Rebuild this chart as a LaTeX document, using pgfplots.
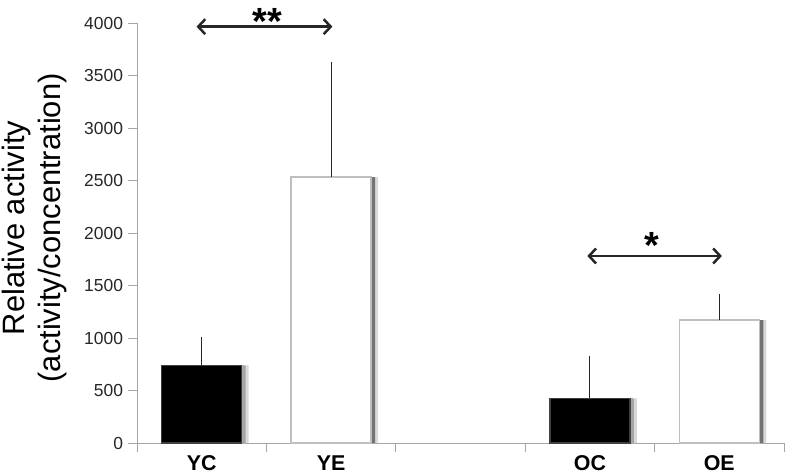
\documentclass[border=0pt]{standalone}
\usepackage{fontspec}
\setmainfont{Liberation Sans}
\usepackage{pgfplots}
\pgfplotsset{compat=1.18}
\usepackage{pgfplotstable}
\usetikzlibrary{arrows.meta}

% x: category slot (2 is the empty gap), y: mean, e: upper error
\pgfplotstableread{
x y e
0 740 222
3 425 365
}\ctrl
\pgfplotstableread{
x y e
1 2533 1055
4 1170 205
}\expo

\tikzset{
  dbl/.style={black!85, line width=2.5bp,
    {Straight Barb[length=7bp,width=15bp]}-{Straight Barb[length=7bp,width=15bp]}},
  star/.style={font=\fontsize{38}{38}\selectfont\bfseries, anchor=base, inner sep=0pt},
}
\pgfplotsset{
  barbase/.style={ybar, bar width=80bp, forget plot},
  errs/.style={error bars/.cd, y dir=plus, y explicit,
    error bar style={black!85, line width=1.1bp},
    error mark options={black!85, line width=1.1bp, mark size=4.5bp}},
}

\begin{document}
\begin{tikzpicture}
\begin{axis}[
  at={(0,0)}, anchor=south west,
  scale only axis, width=647bp, height=420bp,
  xmin=-0.5, xmax=4.5, ymin=0, ymax=4000,
  axis x line*=bottom, axis y line*=left,
  axis line style={gray!70, line width=0.8bp},
  ytick={0,500,...,4000},
  xtick={-0.5,0.5,...,4.5}, xticklabels={},
  extra x ticks={0,1,3,4},
  extra x tick labels={YC,YE,OC,OE},
  extra x tick style={major tick length=0pt,
    tick label style={font=\fontsize{21.5}{21.5}\selectfont\bfseries, yshift=-9bp}},
  tick align=outside, major tick length=8.5bp,
  tick style={gray!70, line width=0.8bp},
  yticklabel style={font=\fontsize{17.5}{17.5}\selectfont, text=black!85, xshift=-2bp},
  /pgf/number format/assume math mode=true,
  scaled y ticks=false,
  y tick label style={/pgf/number format/1000 sep={}},
  every axis y label/.style={at={(axis description cs:-0.158,0.512)}, rotate=90, anchor=center},
  ylabel={Relative activity\\(activity/concentration)},
  ylabel style={align=center, font=\fontsize{31}{36}\selectfont},
  clip=false,
]
% drop shadows
\addplot[barbase, bar shift=7bp, fill=black!15, draw=none] table[x=x,y=y] {\ctrl};
\addplot[barbase, bar shift=4bp, fill=black!35, draw=none] table[x=x,y=y] {\ctrl};
\addplot[barbase, bar shift=7bp, fill=black!15, draw=none] table[x=x,y=y] {\expo};
\addplot[barbase, bar shift=4bp, fill=black!55, draw=none] table[x=x,y=y] {\expo};
% bars
\addplot[barbase, bar shift=0pt, fill=black, draw=black!75, line width=1.2bp, errs]
  table[x=x,y=y,y error=e] {\ctrl};
\addplot[barbase, bar shift=0pt, fill=white, draw=gray!50, line width=1.5bp, errs]
  table[x=x,y=y,y error=e] {\expo};

% significance markers
\draw[dbl] (axis cs:-0.04,3965) -- (axis cs:1.01,3965);
\node[star] at (axis cs:0.51,3895) {**};
\draw[dbl] (axis cs:2.98,1781) -- (axis cs:4.02,1781);
\node[star] at (axis cs:3.48,1755) {*};
\end{axis}
\pgfresetboundingbox
\path[use as bounding box] (-137bp,-33bp) rectangle (650bp,443bp);
\end{tikzpicture}
\end{document}
